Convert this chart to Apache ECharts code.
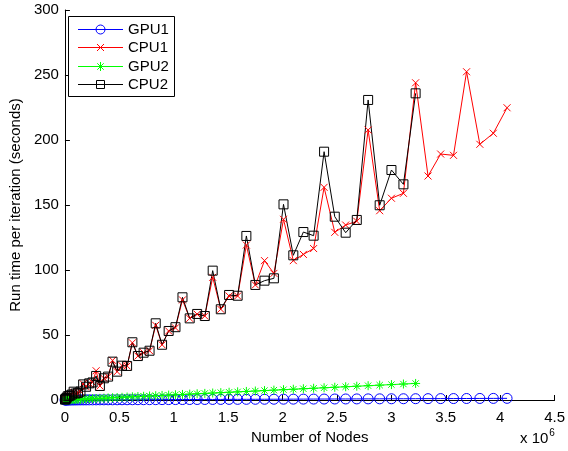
<!DOCTYPE html>
<html>
<head>
<meta charset="utf-8">
<script src="https://cdn.jsdelivr.net/npm/echarts@6/dist/echarts.min.js"></script>
<style>
html, body { margin: 0; padding: 0; background: #fff; }
#chart { width: 568px; height: 451px; }
</style>
</head>
<body>
<div id="chart"></div>
<script>
// number of nodes for each run
var nodes = [992, 3968, 8928, 15872, 24800, 35712, 48608, 63488, 80352, 99200,
  120032, 142848, 167648, 194432, 223200, 253952, 286688, 321408, 358112, 396800,
  437472, 480128, 524768, 571392, 620000, 670592, 723168, 777728, 834272, 892800,
  953312, 1015808, 1080288, 1146752, 1215200, 1285632, 1358048, 1432448, 1508832, 1587200,
  1667552, 1749888, 1834208, 1920512, 2008800, 2099072, 2191328, 2285568, 2381792, 2480000,
  2580192, 2682368, 2786528, 2892672, 3000800, 3110912, 3223008, 3337088, 3453152, 3571200,
  3691232, 3813248, 3937248, 4063232];

// run time per iteration (seconds)
var gpu1 = [0.02, 0.02, 0.03, 0.03, 0.04, 0.04, 0.05, 0.05, 0.06, 0.06,
  0.07, 0.08, 0.08, 0.09, 0.1, 0.11, 0.12, 0.13, 0.14, 0.15,
  0.16, 0.17, 0.19, 0.2, 0.21, 0.23, 0.24, 0.26, 0.27, 0.29,
  0.31, 0.33, 0.35, 0.37, 0.39, 0.41, 0.43, 0.45, 0.48, 0.5,
  0.52, 0.55, 0.58, 0.6, 0.63, 0.66, 0.68, 0.71, 0.74, 0.77,
  0.8, 0.84, 0.87, 0.9, 0.94, 0.97, 1.0, 1.04, 1.08, 1.11,
  1.15, 1.19, 1.23, 1.27];
var cpu1 = [0.3, 0.6, 1.0, 1.6, 2.8, 3.0, 3.5, 4.2, 6.0, 5.0,
  5.5, 6.5, 12.5, 10.2, 12.8, 13.5, 22.5, 10.8, 16.7, 18.0,
  30.5, 21.8, 26.4, 26.2, 44.0, 33.8, 36.4, 37.9, 57.5, 42.5,
  53.1, 55.5, 77.0, 62.8, 66.0, 64.6, 94.4, 69.8, 80.0, 80.0,
  119.2, 88.5, 107.2, 97.4, 139.0, 107.2, 112.0, 116.5, 163.6, 129.0,
  134.6, 137.5, 207.7, 145.6, 155.2, 159.0, 244.0, 172.3, 189.2, 188.2,
  252.5, 196.7, 205.2, 224.8];
var gpu2 = [0.05, 0.05, 0.06, 0.08, 0.1, 0.15, 0.2, 0.25, 0.32, 0.4,
  0.48, 0.57, 0.67, 0.77, 0.88, 1.0, 1.13, 1.27, 1.42, 1.57,
  1.73, 1.9, 2.07, 2.26, 2.45, 2.65, 2.86, 3.07, 3.3, 3.53,
  3.77, 4.01, 4.27, 4.53, 4.8, 5.08, 5.36, 5.66, 5.96, 6.27,
  6.59, 6.91, 7.25, 7.59, 7.93, 8.29, 8.66, 9.03, 9.41, 9.8,
  10.19, 10.6, 11.0, 11.43, 11.85, 12.29, 12.73];
var cpu2 = [0.3, 0.6, 1.0, 1.6, 2.8, 3.0, 3.5, 4.2, 6.4, 5.0,
  5.5, 6.5, 12.0, 10.2, 12.8, 13.5, 18.5, 10.8, 16.7, 18.0,
  29.5, 21.8, 26.4, 26.2, 44.4, 33.8, 36.4, 37.9, 59.0, 42.5,
  53.1, 56.0, 79.0, 62.8, 66.2, 64.6, 99.5, 69.8, 80.8, 80.2,
  126.2, 88.5, 91.8, 93.6, 150.5, 111.3, 129.2, 126.4, 191.0, 141.0,
  128.7, 138.5, 230.8, 149.8, 176.9, 165.9, 235.9];

var seriesNames = ['GPU1', 'CPU1', 'GPU2', 'CPU2'];

var pairs = function(ys) {
  var out = [];
  for (var i = 0; i < ys.length; i++) {
    out.push([nodes[i], ys[i]]);
  }
  return out;
};

var FONT = 'Liberation Sans, Arial, Helvetica, sans-serif';
var crossPath = 'path://M0,0L10,10M10,0L0,10';
var starPath = 'path://M5,0L5,10M0,5L10,5M1.5,1.5L8.5,8.5M8.5,1.5L1.5,8.5';
var colors = ['#0000ff', '#ff0000', '#00ff00', '#000000'];
var markers = ['circle', 'cross', 'star', 'square'];

var makeSeries = function(name, ys, color, symbol, size) {
  return {
    name: name,
    type: 'line',
    data: pairs(ys),
    symbol: symbol,
    symbolSize: size,
    showSymbol: true,
    showAllSymbol: true,
    lineStyle: { color: color, width: 1 },
    itemStyle: { color: 'rgba(0,0,0,0)', borderColor: color, borderWidth: 1 },
    emphasis: { disabled: true },
    animation: false
  };
};

// legend box drawn by hand (matlab style: line + marker + label)
var legendGraphic = function() {
  var els = [{
    type: 'rect',
    shape: { x: 68.5, y: 16.5, width: 106, height: 80 },
    style: { fill: '#fff', stroke: '#000', lineWidth: 1 },
    z: 10
  }];
  var lineStyle = function(c) { return { stroke: c, lineWidth: 1, fill: null }; };
  for (var i = 0; i < seriesNames.length; i++) {
    var y = Math.round(29 + i * 18.3) + 0.5;
    var c = colors[i];
    var cx = 100.5;
    els.push({ type: 'line', shape: { x1: 78, y1: y, x2: 123, y2: y }, style: lineStyle(c), z: 11 });
    if (markers[i] === 'circle') {
      els.push({ type: 'circle', shape: { cx: cx, cy: y, r: 4.5 }, style: lineStyle(c), z: 11 });
    } else if (markers[i] === 'cross') {
      els.push({ type: 'line', shape: { x1: cx - 3.5, y1: y - 3.5, x2: cx + 3.5, y2: y + 3.5 }, style: lineStyle(c), z: 11 });
      els.push({ type: 'line', shape: { x1: cx + 3.5, y1: y - 3.5, x2: cx - 3.5, y2: y + 3.5 }, style: lineStyle(c), z: 11 });
    } else if (markers[i] === 'star') {
      els.push({ type: 'line', shape: { x1: cx, y1: y - 4.5, x2: cx, y2: y + 4.5 }, style: lineStyle(c), z: 11 });
      els.push({ type: 'line', shape: { x1: cx - 4.5, y1: y, x2: cx + 4.5, y2: y }, style: lineStyle(c), z: 11 });
      els.push({ type: 'line', shape: { x1: cx - 3.2, y1: y - 3.2, x2: cx + 3.2, y2: y + 3.2 }, style: lineStyle(c), z: 11 });
      els.push({ type: 'line', shape: { x1: cx + 3.2, y1: y - 3.2, x2: cx - 3.2, y2: y + 3.2 }, style: lineStyle(c), z: 11 });
    } else {
      els.push({ type: 'rect', shape: { x: cx - 4, y: y - 4, width: 8, height: 8 }, style: lineStyle(c), z: 11 });
    }
    els.push({
      type: 'text', x: 128, y: y, z: 11,
      style: { text: seriesNames[i], fontFamily: FONT, fontSize: 15, fill: '#000', verticalAlign: 'middle' }
    });
  }
  return els;
};

var chart = echarts.init(document.getElementById('chart'));
var option = {
  animation: false,
  textStyle: { fontFamily: FONT },
  grid: { left: 61, right: 12, top: 10, bottom: 51 },
  xAxis: {
    type: 'value',
    min: 0,
    max: 4500000,
    interval: 500000,
    name: 'Number of Nodes',
    nameLocation: 'middle',
    nameGap: 26,
    nameTextStyle: { fontFamily: FONT, fontSize: 15, color: '#000' },
    axisLine: { lineStyle: { color: '#000', width: 1 } },
    axisTick: { inside: true, length: 5, lineStyle: { color: '#000' } },
    axisLabel: {
      fontFamily: FONT, fontSize: 15, color: '#000', margin: 10,
      formatter: function(v) { return String(v / 1000000); }
    },
    splitLine: { show: false }
  },
  yAxis: {
    type: 'value',
    min: 0,
    max: 300,
    interval: 50,
    name: 'Run time per iteration (seconds)',
    nameLocation: 'middle',
    nameGap: 31,
    nameTextStyle: { fontFamily: FONT, fontSize: 15, color: '#000' },
    axisLine: { show: true, lineStyle: { color: '#000', width: 1 } },
    axisTick: { show: true, inside: true, length: 5, lineStyle: { color: '#000' } },
    axisLabel: { fontFamily: FONT, fontSize: 15, color: '#000', margin: 6 },
    splitLine: { show: false }
  },
  graphic: [{
    type: 'text',
    left: 520,
    top: 428,
    style: {
      text: '{a|x 10}{b|6}',
      rich: {
        a: { fontFamily: FONT, fontSize: 15, fill: '#000', verticalAlign: 'bottom', lineHeight: 18 },
        b: { fontFamily: FONT, fontSize: 10, fill: '#000', verticalAlign: 'top', lineHeight: 18, padding: [0, 0, 8, 1] }
      }
    }
  }].concat(legendGraphic()),
  series: [
    makeSeries('GPU1', gpu1, colors[0], 'circle', 10),
    makeSeries('CPU1', cpu1, colors[1], crossPath, 7),
    makeSeries('GPU2', gpu2, colors[2], starPath, 9),
    makeSeries('CPU2', cpu2, colors[3], 'rect', 9)
  ]
};
chart.setOption(option);
</script>
</body>
</html>
